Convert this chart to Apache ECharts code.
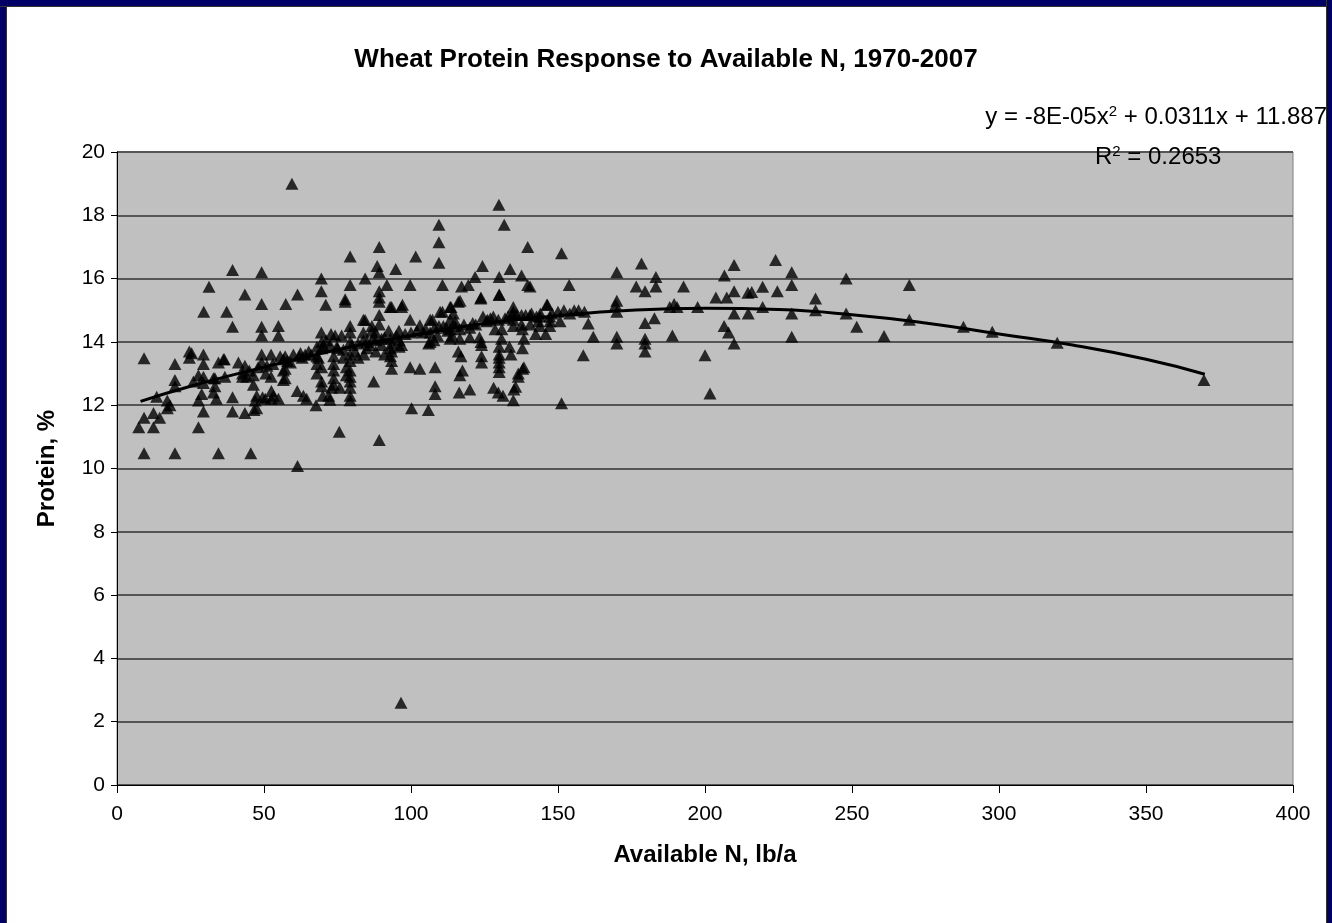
<!DOCTYPE html>
<html>
<head>
<meta charset="utf-8">
<script src="https://cdn.jsdelivr.net/npm/echarts@6/dist/echarts.min.js"></script>
<style>
html,body{margin:0;padding:0;background:#fff;}
#chart{position:absolute;left:0;top:0;width:1332px;height:923px;}
.bar{position:absolute;background:#000066;}
</style>
</head>
<body>
<div id="chart"></div>
<div class="bar" style="left:0;top:0;width:6px;height:923px;border-right:1px solid #333;"></div>
<div class="bar" style="left:0;top:0;width:1332px;height:6px;border-bottom:1px solid #333;"></div>
<div class="bar" style="left:1326px;top:0;width:6px;height:923px;border-left:1px solid #333;"></div>
<script>
// Title and labels
const chartTitle = "Wheat Protein Response to Available N, 1970-2007";
const xAxisTitle = "Available N, lb/a";
const yAxisTitle = "Protein, %";

// Axis ranges
const xTicks = [0, 50, 100, 150, 200, 250, 300, 350, 400];
const yTicks = [0, 2, 4, 6, 8, 10, 12, 14, 16, 18, 20];

// Observations: available N (lb/a) and protein (%)
const availableN = [
7.4,9.2,9.2,9.2,12.4,12.4,13.5,14.5,17.1,17.1,18,19.7,19.7,19.7,19.7,24.6,24.6,25.4,26,27.7,27.7,27.7,28.8,29.4,29.4,29.4,29.4,29.4,29.5,31.3,32.8,32.8,33.3,33.3,33.8,34.5,34.5,36.2,36.5,36.7,37.3,39.3,39.3,39.3,39.3,41.3,42.7,42.7,43.5,43.5,43.5,44.1,45.5,46.4,46.4,46.6,47.5,47.5,47,49.2,49.2,49.2,49.2,49.2,49.2,49.5,50.4,50.6,52.4,52.4,52.5,52.5,53.2,54.9,54.9,54.9,55.5,56.6,56.6,56.6,57.2,57.2,57.2,57.4,59.5,60,61.4,61.4,61.3,62.4,63.4,64.5,65.2,67.7,68,68,68,68,68.5,69.5,69.5,69.5,69.6,69.6,69.6,69.6,69.6,70,70.3,71,71.1,72,72.4,72.5,72.8,73,73.7,73.7,73.7,73.7,73.7,74.2,74.8,75.6,75.8,76.4,77.6,77.6,77,77,78,78,79.3,79.3,79.3,79.3,79.3,79.3,79.3,79.3,79.3,79.3,79.3,79.3,79.3,
83.8,83.8,83.8,84.4,84.4,86.7,86.7,87.3,88,88,88.5,89.2,89.2,89.2,89.2,89.2,89.2,89.2,89.2,91.8,92.4,92.9,93,93,93,93.4,93.4,93.4,93.4,93.4,94.8,95.9,96,96,96.8,96.8,96.6,97.1,99.7,99.7,99.7,100.2,101.6,103,103,105.9,106,106.5,106.5,106.5,107.3,107.8,108.2,108.2,108.2,109,109.5,109.5,109.5,109.5,109.9,110.7,110.7,112.5,113.3,113.3,113.3,113.3,113.6,114,114.4,115,116.1,116.1,116.4,116.6,116.6,116.6,116.7,117,117.2,117.5,119.5,120,120,120,121.8,123.3,123.7,123.8,123.8,124,124,124,124.3,124.5,125.7,128,128.1,128.6,129.7,129.7,129.9,130,130,130,130,130,130,130,130,130,130.8,130.9,131.3,131.7,133.5,133.7,134,134.5,134.8,134.8,134.8,134.8,134.8,135,135.6,136.5,136.5,137.6,137.6,137.6,137.9,137.9,138,138.4,138.4,139.7,139.7,140.5,140.5,140.5,142.4,142.7,143.3,143.8,143.8,145.8,146.2,146.4,147.2,147.2,147.3,150.7,151.2,151.2,153.8,154,155.5,157,158.6,159,160.3,162,169.6,170,170,170,170,170,176.6,178.4,179.6,179.6,179.6,179.6,179.6,182.8,183.3,183.3,188,189.5,190.5,188.9,192.7,197.5,200,201.7,203.7,206.6,206.5,207.4,208,209.9,209.9,209.9,209.9,214.6,214.7,215.9,219.6,219.6,224,224.6,229.5,229.5,229.5,229.5,237.6,237.6,248,248,251.6,260.9,269.5,269.5,287.9,297.7,319.8,369.7,
62,64,66,75,80,82,85,87,90,91,95,98,100,102,104,105,108,111,112,115,118,121,122,126,127,132,133,136,139,141,144,148,150,152,45,48,51,53,58,59,63,81,82,84,85,86,88,90,91
];
const protein = [
11.3,11.6,10.48,13.48,11.75,11.3,12.27,11.6,12.15,11.9,12.0,13.3,12.8,12.6,10.48,13.7,13.5,13.64,12.75,12.95,12.15,11.3,12.35,13.6,13.3,12.9,12.7,11.8,14.95,15.74,12.85,12.4,12.85,12.6,12.2,13.35,10.48,13.45,13.45,12.9,14.95,16.27,14.48,12.25,11.8,13.35,13.0,12.9,15.5,13.25,11.75,12.9,10.48,12.95,12.65,11.85,12.3,11.9,12.15,16.2,15.2,14.48,14.2,13.6,13.35,12.25,12.2,13.0,13.6,12.9,12.45,12.2,12.3,14.5,14.2,12.2,13.55,13.45,13.1,12.8,13.55,13.15,12.85,15.2,19.0,13.6,15.5,10.08,12.45,13.65,12.3,12.2,13.7,12.0,13.85,13.55,13.3,13.0,13.5,16.0,15.6,14.3,14.0,13.8,13.2,12.75,12.6,12.3,13.85,15.17,14.05,12.3,12.17,13.9,14.25,12.55,13.55,13.3,13.1,12.85,12.65,14.2,13.85,11.16,12.55,14.2,15.35,15.27,13.75,13.5,13.2,12.95,16.7,15.8,14.5,14.3,14.0,13.6,13.4,13.1,12.9,12.75,12.55,12.3,12.16,
14.7,14.3,14.05,16.0,14.69,14.5,14.35,12.75,14.3,14.05,16.4,17.0,16.2,15.6,15.4,15.27,14.85,14.55,10.9,15.8,14.35,15.1,14.1,13.8,13.55,15.1,13.95,13.7,13.4,13.15,16.3,14.35,14.05,13.85,15.1,13.9,2.6,15.17,15.8,14.7,13.2,11.9,16.7,14.53,13.15,11.85,13.95,14.7,14.3,14.0,14.7,14.05,13.2,12.6,12.35,14.2,17.7,17.15,16.5,14.5,14.95,15.8,14.95,14.35,15.1,14.7,14.4,14.1,15.1,14.2,14.9,14.65,15.27,13.7,12.4,14.4,14.1,12.95,15.3,13.55,15.75,13.1,15.8,14.45,14.15,12.5,16.05,14.15,15.37,15.4,14.0,13.9,13.55,13.35,16.4,14.8,14.65,14.8,12.55,14.4,14.7,12.4,18.33,16.05,15.5,15.48,13.85,13.6,13.5,13.35,13.2,13.05,14.1,14.4,12.3,17.7,13.85,16.3,13.6,14.85,15.1,14.95,14.7,14.5,12.16,12.5,12.58,13.0,12.9,16.1,14.85,14.55,14.4,13.8,13.15,14.1,13.2,17.0,15.8,14.85,14.55,15.75,14.25,14.8,14.65,14.8,14.5,14.25,15.17,15.17,14.8,14.5,14.65,14.65,16.8,12.06,15.8,14.9,15.0,15.0,13.58,14.95,14.58,14.16,15.17,16.2,15.3,14.95,14.16,13.95,15.75,16.48,15.6,14.6,14.1,13.95,13.7,14.75,16.05,15.75,15.1,15.2,15.1,14.2,15.75,15.1,13.58,12.37,15.4,16.1,14.5,15.4,14.3,16.43,15.6,14.9,13.95,15.55,14.9,15.58,15.74,15.1,16.59,15.6,16.2,15.8,14.9,14.16,15.37,15.0,16.0,14.9,14.48,14.19,15.8,14.7,14.48,14.32,13.97,12.8,
13.55,13.6,13.6,13.8,13.9,13.95,14.0,14.1,14.1,14.15,14.2,14.25,14.3,14.35,14.3,14.4,14.45,14.5,14.45,14.5,14.55,14.6,14.55,14.7,14.75,14.75,14.8,14.85,14.85,14.9,14.9,14.9,14.95,15.0,13.1,13.2,13.25,13.3,13.4,13.35,13.5,13.7,13.5,13.6,13.8,13.9,13.7,13.9,13.6
];

// Polynomial trendline as drawn
const trendN = [8, 25, 50, 75, 100, 125, 150, 175, 200, 225, 250, 275, 300, 325, 350, 370];
const trendProtein = [12.12, 12.6, 13.2, 13.75, 14.2, 14.58, 14.83, 15.0, 15.06, 15.02, 14.86, 14.6, 14.25, 13.9, 13.45, 12.98];

const pts = availableN.map((x, i) => [x, protein[i]]);
const trend = trendN.map((x, i) => [x, trendProtein[i]]);

const FONT = '"Liberation Sans", Arial, sans-serif';
const chart = echarts.init(document.getElementById('chart'), null, {renderer: 'canvas'});
chart.setOption({
  backgroundColor: '#ffffff',
  animation: false,
  title: {
    text: chartTitle, left: 'center', top: 42,
    textStyle: {fontFamily: FONT, fontSize: 26, fontWeight: 'bold', color: '#000'}
  },
  grid: {
    left: 117, right: 39, top: 152, bottom: 138,
    show: true, backgroundColor: '#c0c0c0', borderColor: '#808080', borderWidth: 1
  },
  xAxis: {
    type: 'value', min: xTicks[0], max: xTicks[xTicks.length - 1], interval: 50,
    name: xAxisTitle, nameLocation: 'middle', nameGap: 58,
    nameTextStyle: {fontFamily: FONT, fontSize: 24, fontWeight: 'bold', color: '#000'},
    axisLine: {show: true, lineStyle: {color: '#000', width: 1}},
    axisTick: {show: true, length: 8, inside: false, lineStyle: {color: '#000'}},
    axisLabel: {fontFamily: FONT, fontSize: 21, color: '#000', margin: 19},
    splitLine: {show: false}
  },
  yAxis: {
    type: 'value', min: yTicks[0], max: yTicks[yTicks.length - 1], interval: 2,
    name: yAxisTitle, nameLocation: 'middle', nameGap: 58, nameRotate: 90,
    nameTextStyle: {fontFamily: FONT, fontSize: 24, fontWeight: 'bold', color: '#000'},
    axisLine: {show: true, lineStyle: {color: '#000', width: 1}},
    axisTick: {show: true, length: 6, lineStyle: {color: '#000'}},
    axisLabel: {fontFamily: FONT, fontSize: 21, color: '#000', margin: 12},
    splitLine: {show: true, lineStyle: {color: '#555555', width: 2}}
  },
  graphic: [
    {type: 'text', right: 5, top: 104, style: {
      text: '{n|y = -8E-05x}{s|2}{n| + 0.0311x + 11.887}',
      rich: {n: {fontFamily: FONT, fontSize: 24, fill: '#000'}, s: {fontFamily: FONT, fontSize: 15, fill: '#000', verticalAlign: 'top', padding: [0,0,12,0]}}
    }},
    {type: 'text', left: 1095, top: 144, z: 10, style: {
      text: '{n|R}{s|2}{n| = 0.2653}',
      rich: {n: {fontFamily: FONT, fontSize: 24, fill: '#000'}, s: {fontFamily: FONT, fontSize: 15, fill: '#000', verticalAlign: 'top', padding: [0,0,12,0]}}
    }}
  ],
  series: [
    {type: 'scatter', data: pts, symbol: 'triangle', symbolSize: [13, 12],
     itemStyle: {color: '#000'}, z: 2},
    {type: 'line', data: trend, smooth: true, showSymbol: false, symbol: 'none',
     lineStyle: {color: '#000', width: 3}, z: 3}
  ]
});
</script>
</body>
</html>
